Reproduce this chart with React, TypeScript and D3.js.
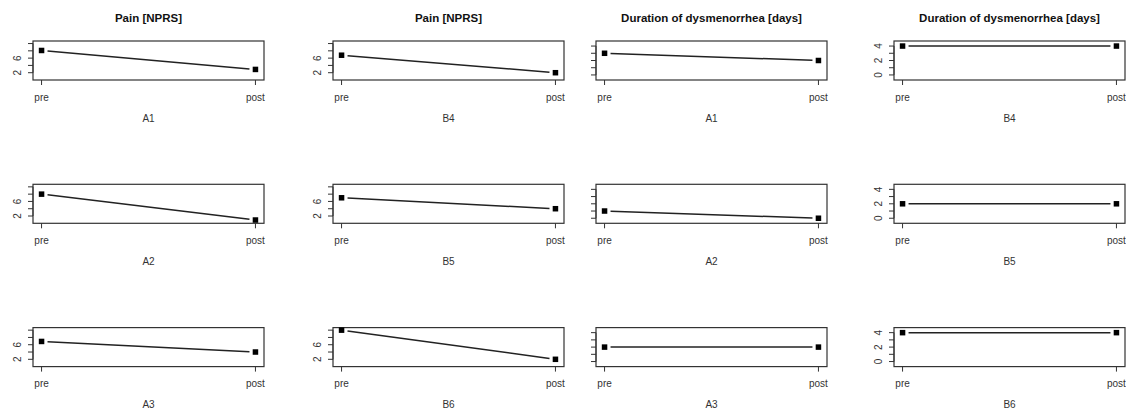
import * as d3 from "d3";

// pre / post values per subject
const phases = ["pre", "post"];

const groupA = ["A1", "A2", "A3"];
const groupB = ["B4", "B5", "B6"];

const painPreA = [8.1, 8, 6.9];
const painPostA = [2.9, 0.9, 4];
const painPreB = [6.8, 7, 10];
const painPostB = [2, 4, 2];

const durPreA = [3, 1, 2];
const durPostA = [2, 0, 2];
const durPreB = [4, 2, 4];
const durPostB = [4, 2, 4];

const painTicks = [2, 4, 6, 8, 10];
const painTickLabels = [2, 6];
const durTicks = [0, 1, 2, 3, 4];
const durTickLabels = [0, 2, 4];

const painTitle = "Pain [NPRS]";
const durTitle = "Duration of dysmenorrhea [days]";

const colLefts = [33, 333, 596, 894];
const rowTops = [41, 184.3, 327.6];
const boxW = 231;
const boxH = 39;

const font = "'Liberation Sans', Arial, Helvetica, sans-serif";

type Col = {
  title: string;
  groups: string[];
  pre: number[];
  post: number[];
  domain: [number, number];
  ticks: number[];
  labels: number[];
};

const cols: Col[] = [
  { title: painTitle, groups: groupA, pre: painPreA, post: painPostA, domain: [0, 10.7], ticks: painTicks, labels: painTickLabels },
  { title: painTitle, groups: groupB, pre: painPreB, post: painPostB, domain: [0, 10.7], ticks: painTicks, labels: painTickLabels },
  { title: durTitle, groups: groupA, pre: durPreA, post: durPostA, domain: [-0.7, 4.7], ticks: durTicks, labels: [] },
  { title: durTitle, groups: groupB, pre: durPreB, post: durPostB, domain: [-0.7, 4.7], ticks: durTicks, labels: durTickLabels },
];

function Panel({ col, row, c }: { col: Col; row: number; c: number }) {
  const left = colLefts[c];
  const top = rowTops[row];
  const x = d3.scaleLinear().domain([0.96, 2.04]).range([left, left + boxW]);
  const y = d3.scaleLinear().domain(col.domain).range([top + boxH, top]);
  const vals = [col.pre[row], col.post[row]];
  const pts = vals.map((v, i) => [x(i + 1), y(v)] as [number, number]);

  // type="b": segment leaves a gap around each point
  const gap = 6;
  const dx = pts[1][0] - pts[0][0];
  const dy = pts[1][1] - pts[0][1];
  const len = Math.sqrt(dx * dx + dy * dy);
  const ux = dx / len;
  const uy = dy / len;
  const seg = d3.line()([
    [pts[0][0] + ux * gap, pts[0][1] + uy * gap],
    [pts[1][0] - ux * gap, pts[1][1] - uy * gap],
  ]);

  const bottom = top + boxH;
  const sq = 5.5;

  return (
    <g>
      {row === 0 && (
        <text
          x={left + boxW / 2}
          y={top - 23}
          dy="0.35em"
          textAnchor="middle"
          fontWeight="bold"
          fontSize={11.5}
          fill="#111"
        >
          {col.title}
        </text>
      )}
      <rect x={left} y={top} width={boxW} height={boxH} fill="white" stroke="#333" strokeWidth={1.2} />
      {col.ticks.map((t) => (
        <line key={t} x1={left - 5} x2={left} y1={y(t)} y2={y(t)} stroke="#333" strokeWidth={1} />
      ))}
      <line x1={left} x2={left} y1={y(col.ticks[0])} y2={y(col.ticks[col.ticks.length - 1])} stroke="#333" />
      {col.labels.map((t) => (
        <text
          key={t}
          transform={`translate(${left - 16},${y(t)}) rotate(-90)`}
          dy="0.35em"
          textAnchor="middle"
          fontSize={10}
          fill="#333"
        >
          {t}
        </text>
      ))}
      {phases.map((p, i) => (
        <g key={p}>
          <line x1={x(i + 1)} x2={x(i + 1)} y1={bottom} y2={bottom + 5} stroke="#333" />
          <text x={x(i + 1)} y={bottom + 17} dy="0.35em" textAnchor="middle" fontSize={10} fill="#333">
            {p}
          </text>
        </g>
      ))}
      <text x={left + boxW / 2} y={bottom + 38} dy="0.35em" textAnchor="middle" fontSize={10} fill="#333">
        {col.groups[row]}
      </text>
      <path d={seg ?? ""} fill="none" stroke="#222" strokeWidth={1.5} />
      {pts.map((p, i) => (
        <rect key={i} x={p[0] - sq / 2} y={p[1] - sq / 2} width={sq} height={sq} fill="#000" />
      ))}
    </g>
  );
}

export default function App() {
  return (
    <svg
      width={1126}
      height={414}
      style={{ position: "absolute", left: 0, top: 0, background: "white" }}
      fontFamily={font}
    >
      <rect width={1126} height={414} fill="white" />
      {cols.map((col, c) =>
        rowTops.map((_, r) => <Panel key={`${c}-${r}`} col={col} row={r} c={c} />)
      )}
    </svg>
  );
}
